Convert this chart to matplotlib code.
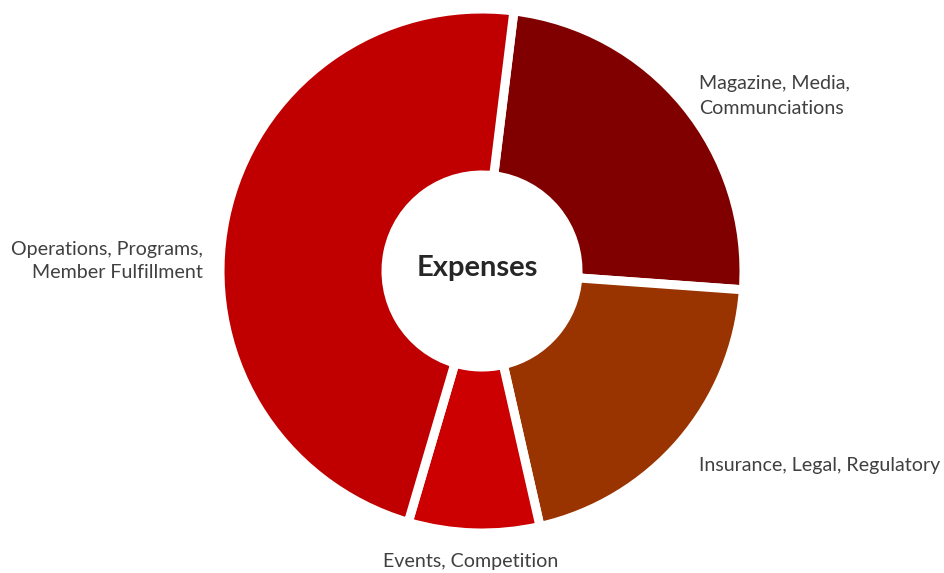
import matplotlib
matplotlib.use("Agg")
import matplotlib.pyplot as plt

categories = ["Magazine, Media,\nCommunciations", "Insurance, Legal, Regulatory",
              "Events, Competition", "Operations, Programs,\nMember Fulfillment"]
values = [24.2, 20.3, 8.1, 47.4]
colors = ["#800000", "#993300", "#CC0000", "#C00000"]
center_title = "Expenses"

W, H = 944, 573
fig = plt.figure(figsize=(W / 100, H / 100), dpi=100)
ax = fig.add_axes([0, 0, 1, 1])

cx, cy, R = 482, H - 271, 262
inner = 96
ax.pie(values, colors=colors, startangle=83, counterclock=False,
       center=(cx, cy), radius=R, frame=True,
       wedgeprops=dict(width=R - inner, edgecolor="white", linewidth=6.5))
ax.set_xlim(0, W)
ax.set_ylim(0, H)
ax.set_aspect("equal")
ax.axis("off")

font = "Lato"
tc = "#404040"
fs = 14.1
ax.text(699, H - 96, categories[0], ha="left", va="center", fontsize=fs,
        color=tc, family=font, linespacing=1.5)
ax.text(699, H - 466, categories[1], ha="left", va="center", fontsize=fs,
        color=tc, family=font)
ax.text(471, H - 562, categories[2], ha="center", va="center", fontsize=fs,
        color=tc, family=font)
ax.text(203, H - 261, categories[3], ha="right", va="center", fontsize=fs,
        color=tc, family=font, linespacing=1.5, multialignment="right")
ax.text(477, H - 268, center_title, ha="center", va="center", fontsize=21,
        fontweight="bold", color="#262626", family=font)

fig.savefig("out.png", dpi=100)
